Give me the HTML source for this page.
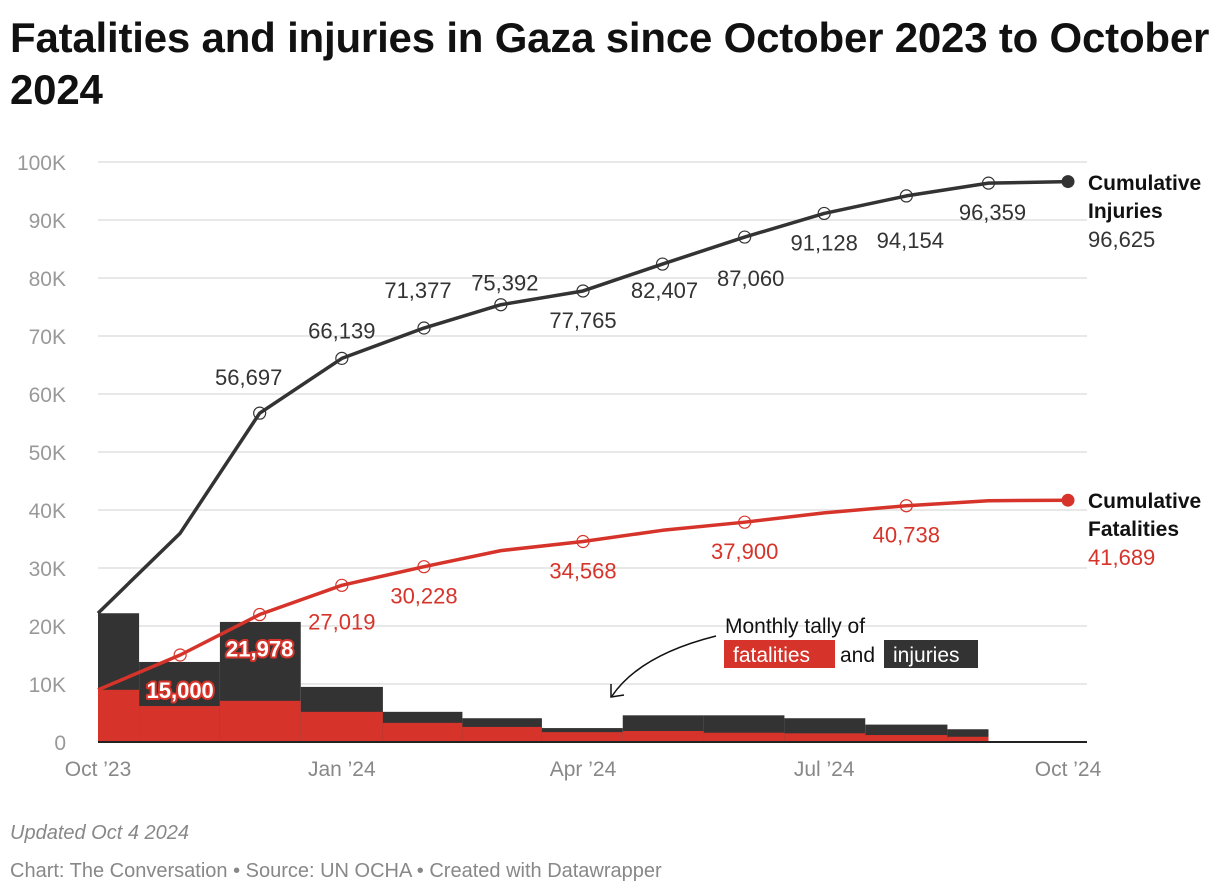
<!DOCTYPE html>
<html><head><meta charset="utf-8"><style>
body{margin:0;background:#fff;width:1220px;height:896px;overflow:hidden;font-family:"Liberation Sans",sans-serif}
#title{position:absolute;left:10px;top:12px;font-size:42px;font-weight:bold;line-height:52px;color:#111;letter-spacing:-0.2px;width:1210px}
.foot{position:absolute;left:10px;font-size:20px;color:#888}
</style></head><body>
<svg id="chart" width="1220" height="896" style="position:absolute;left:0;top:0"></svg>
<div id="title">Fatalities and injuries in Gaza since October 2023 to October 2024</div>
<div class="foot" style="top:822px;font-style:italic">Updated Oct 4 2024</div>
<div class="foot" style="top:860px">Chart: The Conversation • Source: UN OCHA • Created with Datawrapper</div>
<script>
const monthDays=[0,31,61,92,123,152,183,213,244,274,305,336,366];
const injuries=[22.2,36,56.697,66.139,71.377,75.392,77.765,82.407,87.06,91.128,94.154,96.359,96.625];
const fatalities=[9.0,15.0,21.978,27.019,30.228,33.0,34.568,36.5,37.9,39.5,40.738,41.6,41.689];
const monthlyInjuries=[22.2,13.8,20.7,9.5,5.2,4.1,2.4,4.6,4.6,4.1,3.0,2.2];
const monthlyFatalities=[9.0,6.2,7.1,5.2,3.3,2.6,1.7,1.9,1.6,1.5,1.2,0.9];
const yTicks=[0,10,20,30,40,50,60,70,80,90,100];
const xTickDays=[0,92,183,274,366];
const xTickLabels=["Oct ’23","Jan ’24","Apr ’24","Jul ’24","Oct ’24"];
const injLabels=[null,null,"56,697","66,139","71,377","75,392","77,765","82,407","87,060","91,128","94,154","96,359",null];
const injLabelPos=[null,null,[-11,-28],[0,-20],[-6,-30],[4,-14],[0,37],[2,34],[6,49],[0,37],[4,52],[4,37],null];
const fatLabels=[null,"15,000","21,978","27,019","30,228",null,"34,568",null,"37,900",null,"40,738",null,null];
const fatLabelPos=[null,[0,43],[0,42],[0,44],[0,37],null,[0,37],null,[0,37],null,[0,37],null,null];

const RED="#d6342a",DARK="#333";
const svg=document.getElementById('chart');const NS="http://www.w3.org/2000/svg";
const x=d=>98+d*(970/366);
const y=v=>742-v*5.8;
function mk(t,a,p){const e=document.createElementNS(NS,t);for(const k in a)e.setAttribute(k,a[k]);(p||svg).appendChild(e);return e;}
yTicks.forEach(v=>{
  const g=mk('line',{x1:98,x2:1087,y1:y(v),y2:y(v),stroke:'#e0e0e0','stroke-width':1.5});
  
  
  const t=mk('text',{x:66,y:y(v)+8,'text-anchor':'end','font-size':21,fill:'#999'});
  t.textContent=v===0?'0':v+'K';
  
  
});
monthlyInjuries.forEach((v,i)=>{
  const c=monthDays[i];
  const l=i===0?c:(monthDays[i-1]+c)/2;
  const r=i===monthlyInjuries.length-1?c:(c+monthDays[i+1])/2;
  const b=mk('rect',{x:x(l),y:y(v),width:x(r)-x(l),height:y(0)-y(v),fill:DARK});
  
  
  const f=monthlyFatalities[i];
  const b2=mk('rect',{x:x(l),y:y(f),width:x(r)-x(l),height:y(0)-y(f),fill:RED});
  
  
});
const ax=mk('line',{x1:98,x2:1087,y1:742,y2:742,stroke:'#222','stroke-width':2});


xTickDays.forEach((d,i)=>{
  const t=mk('text',{x:x(d),y:776,'text-anchor':'middle','font-size':21,fill:'#888'});
  t.textContent=xTickLabels[i];
  
  
});
function line(vals,col,name){
  const p=mk('polyline',{points:vals.map((v,i)=>x(monthDays[i])+','+y(v)).join(' '),fill:'none',stroke:col,'stroke-width':3.5,'stroke-linejoin':'round'});
  
  
  const i=vals.length-1;
  const c=mk('circle',{cx:x(monthDays[i]),cy:y(vals[i]),r:6.5,fill:col});
  
  
}
line(injuries,DARK,'cumulative-injuries-line');
line(fatalities,RED,'cumulative-fatalities-line');
injLabels.forEach((s,i)=>{
  if(!s)return;
  const c=mk('circle',{cx:x(monthDays[i]),cy:y(injuries[i]),r:6,fill:'none',stroke:DARK,'stroke-width':1.2});
  
  
  const t=mk('text',{x:x(monthDays[i])+injLabelPos[i][0],y:y(injuries[i])+injLabelPos[i][1],'text-anchor':'middle','font-size':22,fill:DARK});
  t.textContent=s;
  
  
});
fatLabels.forEach((s,i)=>{
  if(!s)return;
  const c=mk('circle',{cx:x(monthDays[i]),cy:y(fatalities[i]),r:6,fill:'none',stroke:RED,'stroke-width':1.2});
  
  
  const inside=i<=2;
  const t=mk('text',{x:x(monthDays[i])+fatLabelPos[i][0],y:y(fatalities[i])+fatLabelPos[i][1],'text-anchor':'middle','font-size':22,fill:inside?'#fff':RED,'font-weight':inside?'bold':'normal'});
  if(inside){t.setAttribute('stroke',RED);t.setAttribute('stroke-width','4');t.setAttribute('paint-order','stroke');t.setAttribute('stroke-linejoin','round');}
  t.textContent=s;
  
  
});
function endLabel(y0,l1,l2,val,col,name){
  const g=mk('g',{});
  
  
  const a=mk('text',{x:1088,y:y0,'font-size':21,'font-weight':'bold',fill:'#111'},g);a.textContent=l1;
  const b=mk('text',{x:1088,y:y0+28,'font-size':21,'font-weight':'bold',fill:'#111'},g);b.textContent=l2;
  const c=mk('text',{x:1088,y:y0+57,'font-size':22,fill:col},g);c.textContent=val;
}
endLabel(190,'Cumulative','Injuries','96,625',DARK,'injuries-end-label');
endLabel(508,'Cumulative','Fatalities','41,689',RED,'fatalities-end-label');
const ann=mk('g',{});


mk('text',{x:725,y:633,'font-size':21,fill:'#111'},ann).textContent='Monthly tally of';
mk('rect',{x:724,y:640,width:111,height:28,fill:RED},ann);
mk('text',{x:733,y:662,'font-size':21,fill:'#fff'},ann).textContent='fatalities';
mk('text',{x:840,y:662,'font-size':21,fill:'#111'},ann).textContent='and';
mk('rect',{x:884,y:640,width:94,height:28,fill:DARK},ann);
mk('text',{x:893,y:662,'font-size':21,fill:'#fff'},ann).textContent='injuries';
mk('path',{d:'M716,636 Q640,655 612,696',fill:'none',stroke:'#111','stroke-width':1.5},ann);
mk('path',{d:'M611,684 L611,697 L624,695',fill:'none',stroke:'#111','stroke-width':1.5},ann);
</script>
</body></html>
